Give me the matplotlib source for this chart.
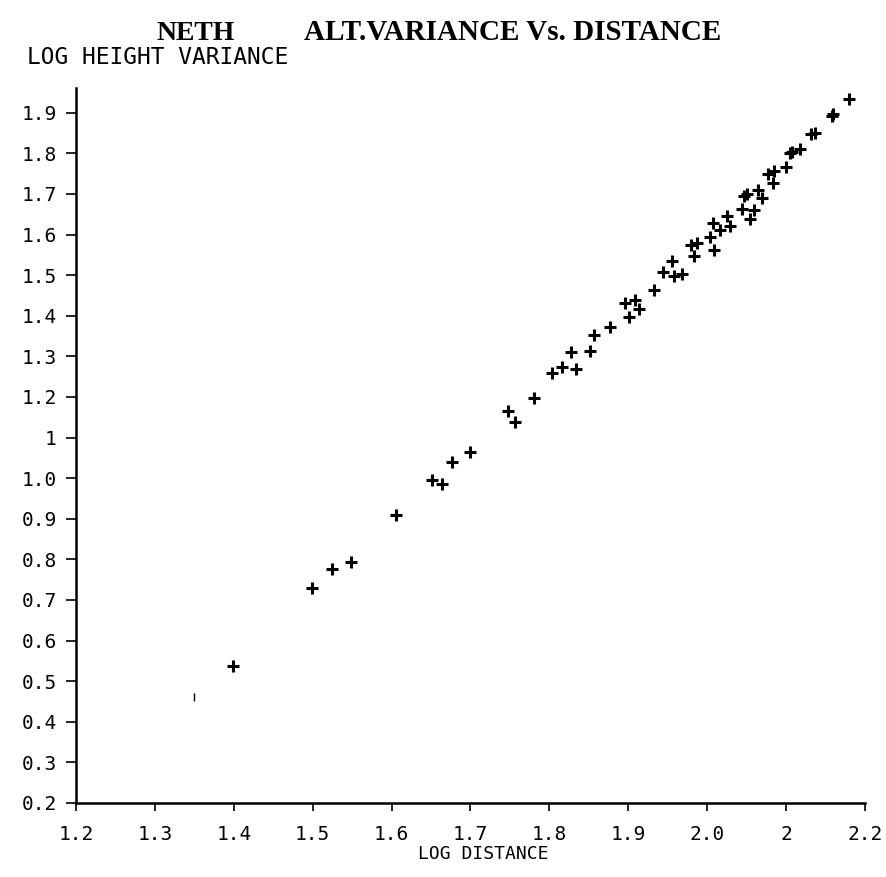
import matplotlib
matplotlib.use("Agg")
import matplotlib.pyplot as plt

# puntos (log distancia, log varianza de altura)
log_dist = [1.399, 1.499, 1.525, 1.548, 1.605, 1.651, 1.664, 1.677, 1.700,
            1.748, 1.757, 1.781, 1.803, 1.816, 1.834, 1.828, 1.851, 1.857,
            1.877, 1.896, 1.901, 1.908, 1.914, 1.933, 1.944, 1.955, 1.958,
            1.968, 1.983, 1.980, 1.987, 2.009, 2.003, 2.016, 2.007, 2.029,
            2.025, 2.044, 2.054, 2.059, 2.047, 2.050, 2.064, 2.069, 2.083,
            2.077, 2.085, 2.100, 2.105, 2.107, 2.118, 2.131, 2.137, 2.158,
            2.160, 2.180]
log_var = [0.537, 0.729, 0.776, 0.794, 0.909, 0.996, 0.985, 1.039, 1.064,
           1.165, 1.138, 1.198, 1.259, 1.273, 1.269, 1.310, 1.314, 1.352,
           1.372, 1.431, 1.397, 1.440, 1.416, 1.464, 1.508, 1.535, 1.497,
           1.504, 1.547, 1.575, 1.579, 1.563, 1.594, 1.611, 1.629, 1.620,
           1.646, 1.663, 1.638, 1.660, 1.695, 1.701, 1.709, 1.689, 1.726,
           1.749, 1.757, 1.767, 1.800, 1.804, 1.810, 1.847, 1.849, 1.892,
           1.896, 1.935]

# punto casi borrado en el escaneo
faint_x = [1.350]
faint_y = [0.461]

yticks = [0.2, 0.3, 0.4, 0.5, 0.6, 0.7, 0.8, 0.9, 1.0, 1.1,
          1.2, 1.3, 1.4, 1.5, 1.6, 1.7, 1.8, 1.9]
ytick_labels = ["0.2", "0.3", "0.4", "0.5", "0.6", "0.7", "0.8", "0.9", "1.0", "1",
                "1.2", "1.3", "1.4", "1.5", "1.6", "1.7", "1.8", "1.9"]
xticks = [1.2, 1.3, 1.4, 1.5, 1.6, 1.7, 1.8, 1.9, 2.0, 2.1, 2.2]
xtick_labels = ["1.2", "1.3", "1.4", "1.5", "1.6", "1.7", "1.8", "1.9", "2.0", "2", "2.2"]

W, H = 886, 877
fig = plt.figure(figsize=(W / 100, H / 100), dpi=100)
ax = fig.add_axes([76 / W, 1 - 803 / H, (865 - 76) / W, (803 - 88) / H])

ax.plot(log_dist, log_var, linestyle="none", marker="+", color="black",
        markersize=8, markeredgewidth=2.2)
ax.plot(faint_x, faint_y, linestyle="none", marker="|", color="black",
        markersize=6, markeredgewidth=1.0)

ax.set_xlim(1.2, 2.2)
ax.set_ylim(0.2, 1.961)

for s in ["top", "right"]:
    ax.spines[s].set_visible(False)
for s in ["left", "bottom"]:
    ax.spines[s].set_linewidth(1.8)
    ax.spines[s].set_color("black")

mono = "DejaVu Sans Mono"
ax.set_yticks(yticks)
ax.set_yticklabels(ytick_labels, fontfamily=mono, fontsize=14)
ax.set_xticks(xticks)
ax.set_xticklabels(xtick_labels, fontfamily=mono, fontsize=14)
ax.tick_params(axis="y", direction="out", length=7, width=1.2, pad=7)
ax.tick_params(axis="x", direction="out", length=6, width=1.2, pad=10)

fig.text(196 / W, 1 - 33 / H, "NETH", fontfamily="Liberation Serif",
         fontsize=20, ha="center", va="center", weight="bold")
fig.text(513 / W, 1 - 33 / H, "ALT.VARIANCE Vs. DISTANCE", fontfamily="Liberation Serif",
         fontsize=21, ha="center", va="center", weight="bold")
fig.text(27 / W, 1 - 58 / H, "LOG HEIGHT VARIANCE", fontfamily=mono,
         fontsize=16.5, ha="left", va="center")
fig.text(483 / W, 1 - 854 / H, "LOG DISTANCE", fontfamily=mono,
         fontsize=13, ha="center", va="center")

fig.savefig("out.png", dpi=100, facecolor="white")
